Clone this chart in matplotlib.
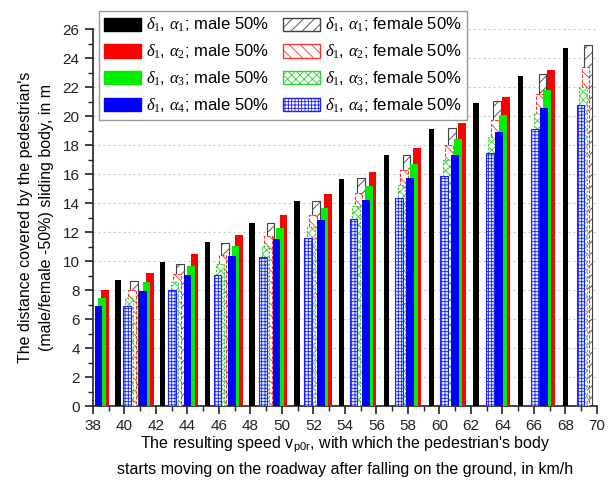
import numpy as np
import matplotlib
matplotlib.use("Agg")
import matplotlib.pyplot as plt
from matplotlib.patches import Patch
from matplotlib.ticker import MultipleLocator

plt.rcParams['font.family'] = ['Liberation Sans', 'DejaVu Sans']
plt.rcParams['mathtext.fontset'] = 'custom'
plt.rcParams['mathtext.rm'] = 'Liberation Serif'
plt.rcParams['mathtext.it'] = 'Liberation Serif:italic'
plt.rcParams['mathtext.sf'] = 'Liberation Sans'
plt.rcParams['hatch.linewidth'] = 0.6

# Sliding distance (m) of the pedestrian's body, male 50% dummy
male_a1 = [8.68, 9.93, 11.30, 12.66, 14.16, 15.70, 17.32, 19.12, 20.90, 22.76, 24.72]
male_a2 = [8.02, 9.19, 10.49, 11.80, 13.18, 14.66, 16.18, 17.85, 19.55, 21.35, 23.17]
male_a3 = [7.46, 8.55, 9.70, 11.02, 12.30, 13.70, 15.18, 16.70, 18.43, 20.07, 21.82]
male_a4 = [6.93, 7.97, 9.08, 10.33, 11.52, 12.84, 14.23, 15.73, 17.33, 18.90, 20.56]

# Sliding distance (m) of the pedestrian's body, female 50% dummy
female_a1 = [8.61, 9.84, 11.27, 12.66, 14.14, 15.73, 17.36, 19.21, 21.03, 22.92, 24.94]
female_a2 = [7.99, 9.12, 10.46, 11.77, 13.18, 14.70, 16.30, 18.04, 19.73, 21.53, 23.39]
female_a3 = [7.46, 8.57, 9.82, 11.07, 12.39, 13.82, 15.27, 16.97, 18.56, 20.25, 22.02]
female_a4 = [6.93, 7.99, 9.08, 10.30, 11.59, 12.91, 14.39, 15.85, 17.48, 19.10, 20.79]

x_ticks = list(range(38, 71, 2))
y_ticks = list(range(0, 27, 2))

fig = plt.figure(figsize=(6.11, 4.91), dpi=100)
ax = fig.add_axes([0.152, 0.173, 0.825, 0.767])

n = len(male_a1)
idx = np.arange(n)

# bar positions along the speed axis
x_black = 39.59 + 2.841 * idx
x_male = 38.35 + 2.828 * idx
x_fem = 40.15 + 2.88 * idx
w_col = 0.49
w_black = 0.34

# female bars (hatched, drawn behind)
ax.bar(x_fem + 0.48, female_a1, w_col, facecolor='white', edgecolor='#404040',
       hatch='///', linewidth=0.8, zorder=2)
ax.bar(x_fem + 0.32, female_a2, w_col, facecolor='white', edgecolor='#ff3030',
       hatch='\\\\\\', linewidth=0.8, linestyle=(0, (3, 1.5)), zorder=3)
ax.bar(x_fem + 0.16, female_a3, w_col, facecolor='white', edgecolor='#30d030',
       hatch='xxxx', linewidth=0.8, linestyle=(0, (2, 1.5)), zorder=4)
ax.bar(x_fem, female_a4, w_col, facecolor='#e0f2fa', edgecolor='#2020ff',
       hatch='+++++', linewidth=0.8, zorder=5)

# male bars (solid)
ax.bar(x_black, male_a1, w_black, color='black', linewidth=0, zorder=6)
ax.bar(x_male + 0.44, male_a2, w_col, color='#ff0000', linewidth=0, zorder=6)
ax.bar(x_male + 0.22, male_a3, w_col, color='#00ee00', linewidth=0, zorder=7)
ax.bar(x_male, male_a4, w_col, color='#0000ff', linewidth=0, zorder=8)

ax.set_xlim(38, 70)
ax.set_ylim(0, 26)
ax.set_xticks(x_ticks)
ax.set_yticks(y_ticks)
ax.xaxis.set_minor_locator(MultipleLocator(1))
ax.yaxis.set_minor_locator(MultipleLocator(1))
ax.tick_params(axis='both', which='major', direction='out', length=6, width=1.2,
               labelsize=11, colors='#222222')
ax.tick_params(axis='both', which='minor', direction='out', length=3.5, width=1.0,
               colors='#222222')
for side in ('top', 'right'):
    ax.spines[side].set_visible(False)
for side in ('left', 'bottom'):
    ax.spines[side].set_linewidth(1.2)
    ax.spines[side].set_color('#222222')

ax.yaxis.grid(True, linestyle=(0, (2, 2.5)), color='#c8c8c8', linewidth=0.8, zorder=0)
ax.set_axisbelow(True)

ax.set_xlabel("The resulting speed v$_{\\mathsf{p0r}}$, with which the pedestrian's body\n"
              "starts moving on the roadway after falling on the ground, in km/h",
              fontsize=11.5, linespacing=1.6, labelpad=1)
ax.set_ylabel("The distance covered by the pedestrian's\n"
              "(male/female -50%) sliding body, in m",
              fontsize=11.5, linespacing=1.5, labelpad=6)

handles = [
    Patch(facecolor='black', edgecolor='black', label=r'$\delta_1$, $\alpha_1$; male 50%'),
    Patch(facecolor='#ff0000', edgecolor='#ff0000', label=r'$\delta_1$, $\alpha_2$; male 50%'),
    Patch(facecolor='#00ee00', edgecolor='#00ee00', label=r'$\delta_1$, $\alpha_3$; male 50%'),
    Patch(facecolor='#0000ff', edgecolor='#0000ff', label=r'$\delta_1$, $\alpha_4$; male 50%'),
    Patch(facecolor='white', edgecolor='#404040', hatch='///', label=r'$\delta_1$, $\alpha_1$; female 50%'),
    Patch(facecolor='white', edgecolor='#ff3030', hatch='\\\\\\', label=r'$\delta_1$, $\alpha_2$; female 50%'),
    Patch(facecolor='white', edgecolor='#30d030', hatch='xxxx', label=r'$\delta_1$, $\alpha_3$; female 50%'),
    Patch(facecolor='white', edgecolor='#2020ff', hatch='+++++', label=r'$\delta_1$, $\alpha_4$; female 50%'),
]
leg = fig.legend(handles=handles, ncol=2, loc='upper left',
                 bbox_to_anchor=(99 / 611, 1 - 11 / 491), fontsize=12,
                 frameon=True, fancybox=False, edgecolor='#999999', framealpha=1.0,
                 handlelength=2.2, handleheight=0.85, columnspacing=0.9,
                 labelspacing=0.5, borderpad=0.3, handletextpad=0.3,
                 borderaxespad=0)
leg.get_frame().set_linewidth(1.0)

fig.savefig('out.png', dpi=100)
